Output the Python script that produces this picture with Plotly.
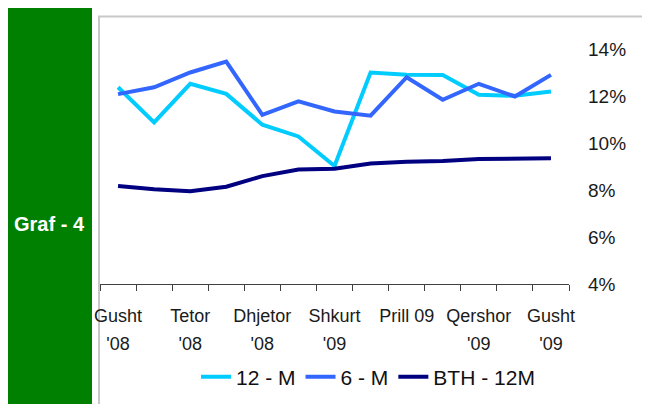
import plotly.graph_objects as go

# ---- data ----
months = ["Gusht '08", "Shtator '08", "Tetor '08", "Nentor '08", "Dhjetor '08", "Janar '09",
          "Shkurt '09", "Mars '09", "Prill 09", "Maj '09", "Qershor '09", "Korrik '09", "Gusht '09"]
tick_idx = [0, 2, 4, 6, 8, 10, 12]
tick_line1 = ["Gusht", "Tetor", "Dhjetor", "Shkurt", "Prill 09", "Qershor", "Gusht"]
tick_line2 = ["'08", "'08", "'08", "'09", "", "'09", "'09"]
y_ticks = [4, 6, 8, 10, 12, 14]
y_ticktext = ["4%", "6%", "8%", "10%", "12%", "14%"]

s12m = [12.37, 10.88, 12.52, 12.09, 10.78, 10.28, 9.02, 13.0, 12.9, 12.89, 12.05, 12.01, 12.19]
s6m = [12.08, 12.37, 13.0, 13.46, 11.2, 11.77, 11.34, 11.16, 12.80, 11.84, 12.52, 11.98, 12.90]
bth = [8.17, 8.03, 7.95, 8.14, 8.59, 8.87, 8.90, 9.13, 9.20, 9.23, 9.32, 9.34, 9.35]

series = [("12 - M", s12m, "#00CCFF"), ("6 - M", s6m, "#3366FF"), ("BTH - 12M", bth, "#000080")]

# ---- layout geometry (page pixels; page body has an 8px margin) ----
OFF = 8
W, H = 650 - OFF, 404 - OFF
PL, PR, PT, PB = 100, 569, 49, 284


def px(x):
    return (x - PL) / (PR - PL)


def py(y):
    return (PB - y) / (PB - PT)


FONT = "Liberation Sans, Arial, sans-serif"
xs = list(range(len(months)))

fig = go.Figure()
for name, vals, col in series:
    fig.add_trace(go.Scatter(x=xs, y=vals, name=name, mode="lines",
                             line=dict(color=col, width=4), hovertext=months))
# dummy trace so the second label row axis is drawn
fig.add_trace(go.Scatter(x=xs, y=[None] * len(xs), xaxis="x2", showlegend=False,
                         hoverinfo="skip", mode="lines"))

fig.update_layout(
    width=W, height=H,
    margin=dict(l=PL - OFF, r=W - (PR - OFF), t=PT - OFF, b=H - (PB - OFF), pad=0,
                autoexpand=False),
    paper_bgcolor="white", plot_bgcolor="white",
    font=dict(family=FONT, size=18, color="#1a1a1a"),
    showlegend=True,
    legend=dict(orientation="h", x=px(368), y=py(377), xanchor="center", yanchor="middle",
                font=dict(size=21, color="#111"), bgcolor="rgba(0,0,0,0)",
                itemwidth=30, tracegroupgap=0),
    xaxis=dict(range=[-0.5, len(months) - 0.5], tickmode="array", tickvals=tick_idx,
               ticktext=tick_line1, ticks="", showgrid=False, zeroline=False,
               showline=True, linecolor="#404040", linewidth=1,
               tickfont=dict(size=18), ticklabelstandoff=15,
               minor=dict(tickvals=[i - 0.5 for i in range(len(months) + 1)],
                          ticks="outside", ticklen=6, tickcolor="#404040", tickwidth=1,
                          showgrid=False)),
    xaxis2=dict(overlaying="x", matches="x", anchor="y", side="bottom",
                tickmode="array", tickvals=tick_idx, ticktext=tick_line2, ticks="",
                showgrid=False, zeroline=False, showline=False,
                tickfont=dict(size=18), ticklabelstandoff=47),
    yaxis=dict(range=[4, 14], side="right", tickmode="array", tickvals=y_ticks,
               ticktext=y_ticktext, ticks="", showgrid=False, zeroline=False, showline=False,
               tickfont=dict(size=19), ticklabelstandoff=18),
    shapes=[
        dict(type="rect", xref="paper", yref="paper", x0=px(99), x1=px(660), y0=py(440), y1=py(16.5),
             line=dict(color="#c8c8c8", width=2), fillcolor="rgba(0,0,0,0)", layer="below"),
        dict(type="rect", xref="paper", yref="paper", x0=px(7), x1=px(92), y0=py(440), y1=py(8),
             line=dict(width=0), fillcolor="#008000", layer="below"),
    ],
    annotations=[
        dict(text="<b>Graf - 4</b>", xref="paper", yref="paper", x=px(49.5), y=py(224),
             xanchor="center", yanchor="middle", showarrow=False,
             font=dict(family=FONT, size=20, color="white")),
    ],
)

fig.write_html("out.html")
